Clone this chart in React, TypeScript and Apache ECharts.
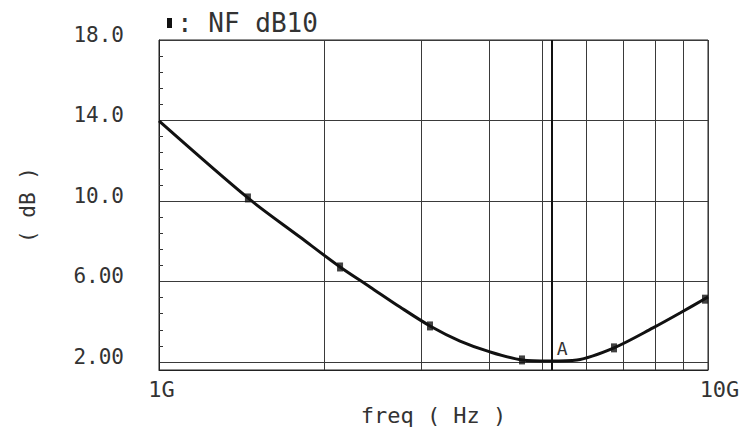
import React, { useEffect, useRef } from 'react';
import * as echarts from 'echarts';

// ---- data (frequency in GHz, noise figure in dB) ----
const CURVE_FREQ_GHZ = [1.0, 1.452, 1.806, 2.137, 2.423, 2.748, 3.116, 3.534, 4.008, 4.584, 5.155, 5.772, 6.742, 7.939, 8.892, 10.0];
const CURVE_DB = [13.98, 10.15, 8.21, 6.72, 5.73, 4.73, 3.79, 3.04, 2.5, 2.1, 2.05, 2.1, 2.7, 3.69, 4.43, 5.23];
const MARKER_FREQ_GHZ = [1.452, 2.137, 3.116, 4.584, 6.742, 9.875];
const MARKER_DB = [10.15, 6.72, 3.79, 2.1, 2.7, 5.12];
const MARKER_A_FREQ_GHZ = 5.2;
const MARKER_A_DB = 2.05;

// ---- axes ----
const X_GRID_GHZ = [1, 2, 3, 4, 5, 6, 7, 8, 9, 10];
const X_LABEL_GHZ = [1, 10];
const X_LABELS = ['1G', '10G'];
const Y_TICKS = [2, 6, 10, 14, 18];
const Y_LABELS = ['2.00', '6.00', '10.0', '14.0', '18.0'];
const Y_MINOR_TICKS = [2.8, 3.6, 4.4, 5.2, 6.8, 7.6, 8.4, 9.2, 10.8, 11.6, 12.4, 13.2, 14.8, 15.6, 16.4, 17.2];
const Y_MIN = 1.6;
const Y_MAX = 18;
const SERIES_NAME = 'NF dB10';

const GHZ = 1e9;
const FONT = "'DejaVu Sans Mono', monospace";
const TEXT_COLOR = '#333';
const X_LABEL_PAD = [5, 23];

export default function App() {
  const ref = useRef<HTMLDivElement>(null);

  useEffect(() => {
    if (!ref.current) return;
    const chart = echarts.init(ref.current, undefined, { renderer: 'svg' });

    const xLabelIndex = (v: number) =>
      X_LABEL_GHZ.findIndex((g) => Math.abs(g * GHZ - v) < 1e3);
    const yLabelIndex = (v: number) => Y_TICKS.findIndex((t) => Math.abs(t - v) < 1e-6);

    const option: any = {
      animation: false,
      backgroundColor: '#fff',
      legend: {
        show: true,
        data: [{ name: SERIES_NAME, icon: 'rect' }],
        left: 167,
        top: 10,
        padding: 0,
        itemWidth: 5,
        itemHeight: 10,
        formatter: (name: string) => ': ' + name,
        textStyle: { fontFamily: FONT, fontSize: 26, color: TEXT_COLOR },
      },
      grid: {
        left: 159,
        right: 38,
        top: 40,
        bottom: 72,
        show: true,
        borderColor: '#222',
        borderWidth: 1,
        backgroundColor: 'transparent',
      },
      xAxis: {
        type: 'log',
        logBase: 10,
        min: 1e9,
        max: 1e10,
        name: 'freq ( Hz )',
        nameLocation: 'middle',
        nameGap: 33,
        nameTextStyle: { fontFamily: FONT, fontSize: 22, color: TEXT_COLOR },
        axisLine: { show: true, lineStyle: { color: '#222', width: 1 } },
        axisTick: { show: false, customValues: X_GRID_GHZ.map((g) => g * GHZ) },
        axisLabel: {
          customValues: X_LABEL_GHZ.map((g) => g * GHZ),
          margin: 8,
          formatter: (v: number) => {
            const i = xLabelIndex(v);
            if (i < 0) return '';
            return '{p' + i + '| }{t|' + X_LABELS[i] + '}';
          },
          rich: {
            p0: { width: X_LABEL_PAD[0], fontSize: 22, fontFamily: FONT },
            p1: { width: X_LABEL_PAD[1], fontSize: 22, fontFamily: FONT },
            t: { fontFamily: FONT, fontSize: 22, color: TEXT_COLOR },
          },
        },
        splitLine: { show: true, lineStyle: { color: '#3a3a3a', width: 1 } },
      },
      yAxis: [
        {
          type: 'value',
          min: Y_MIN,
          max: Y_MAX,
          position: 'left',
          name: '( dB )',
          nameLocation: 'middle',
          nameRotate: 90,
          nameGap: 121,
          nameTextStyle: { fontFamily: FONT, fontSize: 21, color: TEXT_COLOR },
          axisLine: { show: true, lineStyle: { color: '#222', width: 1 } },
          axisTick: { show: false, customValues: Y_TICKS },
          axisLabel: {
            customValues: Y_TICKS,
            margin: 35,
            formatter: (v: number) => {
              const i = yLabelIndex(v);
              return i < 0 ? '' : '{t|' + Y_LABELS[i] + '}';
            },
            rich: {
              t: {
                fontFamily: FONT,
                fontSize: 21,
                color: TEXT_COLOR,
                padding: [0, 0, 10, 0],
              },
            },
          },
          splitLine: { show: true, lineStyle: { color: '#3a3a3a', width: 1 } },
        },
        {
          type: 'value',
          min: Y_MIN,
          max: Y_MAX,
          position: 'left',
          axisLine: { show: false },
          axisLabel: { show: false },
          splitLine: { show: false },
          axisTick: {
            show: true,
            inside: true,
            length: 4,
            customValues: Y_MINOR_TICKS,
            lineStyle: { color: '#333', width: 1 },
          },
        },
      ],
      series: [
        {
          type: 'line',
          name: SERIES_NAME,
          data: CURVE_FREQ_GHZ.map((f, i) => [f * GHZ, CURVE_DB[i]]),
          showSymbol: false,
          symbol: 'none',
          smooth: 0.3,
          lineStyle: { color: '#111', width: 3 },
          itemStyle: { color: '#111' },
          markLine: {
            symbol: 'none',
            silent: true,
            label: { show: false },
            lineStyle: { color: '#111', width: 2, type: 'solid' },
            data: [{ xAxis: MARKER_A_FREQ_GHZ * GHZ }],
          },
          markPoint: {
            symbol: 'circle',
            symbolSize: 0,
            silent: true,
            label: {
              show: true,
              formatter: 'A',
              offset: [10, -12],
              fontFamily: FONT,
              fontSize: 18,
              color: TEXT_COLOR,
            },
            data: [{ coord: [MARKER_A_FREQ_GHZ * GHZ, MARKER_A_DB] }],
          },
        },
        {
          type: 'scatter',
          name: SERIES_NAME,
          symbol: 'rect',
          symbolSize: [6, 9],
          itemStyle: { color: '#111' },
          data: MARKER_FREQ_GHZ.map((f, i) => [f * GHZ, MARKER_DB[i]]),
          z: 3,
        },
      ],
    };

    chart.setOption(option);
    return () => chart.dispose();
  }, []);

  return (
    <div
      ref={ref}
      style={{ position: 'absolute', left: 0, top: 0, width: 746, height: 442, background: '#fff' }}
    />
  );
}
